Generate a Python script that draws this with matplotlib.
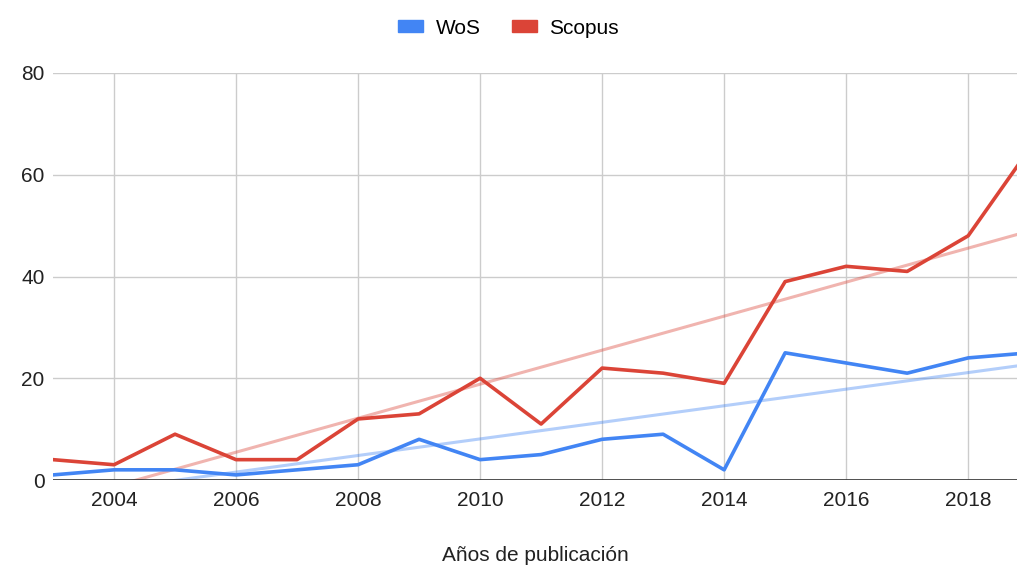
import matplotlib.pyplot as plt
import numpy as np
from matplotlib.patches import Patch

plt.rcParams['font.family'] = ['Liberation Sans', 'DejaVu Sans']

anios = np.arange(2003, 2020)
wos = [1, 2, 2, 1, 2, 3, 8, 4, 5, 8, 9, 2, 25, 23, 21, 24, 25]
scopus = [4, 3, 9, 4, 4, 12, 13, 20, 11, 22, 21, 19, 39, 42, 41, 48, 65]
etiquetas_x = [2004, 2006, 2008, 2010, 2012, 2014, 2016, 2018]
etiquetas_y = [0, 20, 40, 60, 80]

azul = '#4285F4'
rojo = '#DB4437'

fig = plt.figure(figsize=(10.17, 5.67), dpi=100)
ax = fig.add_axes([53 / 1017, 1 - 480 / 567, 1 - 53 / 1017, 407 / 567])

# lineas de tendencia (regresion lineal)
xx = np.linspace(2002, 2020, 50)
for serie, color in [(wos, azul), (scopus, rojo)]:
    m, b = np.polyfit(anios, serie, 1)
    ax.plot(xx, m * xx + b, color=color, lw=2.2, alpha=0.4, solid_capstyle='butt', zorder=2)

ax.plot(anios, wos, color=azul, lw=2.6, zorder=3)
ax.plot(anios, scopus, color=rojo, lw=2.6, zorder=3)

ax.set_xlim(2003, 2018.8)
ax.set_ylim(0, 80)
ax.set_xticks(etiquetas_x)
ax.set_yticks(etiquetas_y)
ax.grid(True, color='#cccccc', lw=1)
ax.set_axisbelow(True)
ax.axhline(0, color='#333333', lw=1.2, zorder=4)
for s in ax.spines.values():
    s.set_visible(False)
ax.tick_params(length=0, labelsize=15, colors='#222222')
ax.tick_params(axis='x', pad=8)
ax.tick_params(axis='y', pad=6)
ax.set_xlabel('Años de publicación', fontsize=15, color='#222222', labelpad=26)

handles = [Patch(color=azul), Patch(color=rojo)]
fig.legend(handles, ['WoS', 'Scopus'], loc='center', bbox_to_anchor=(0.5, 1 - 28 / 567),
           ncol=2, frameon=False, fontsize=15, handlelength=1.2, handleheight=0.45,
           columnspacing=1.5, handletextpad=0.6)

plt.savefig('out.png', dpi=100)
